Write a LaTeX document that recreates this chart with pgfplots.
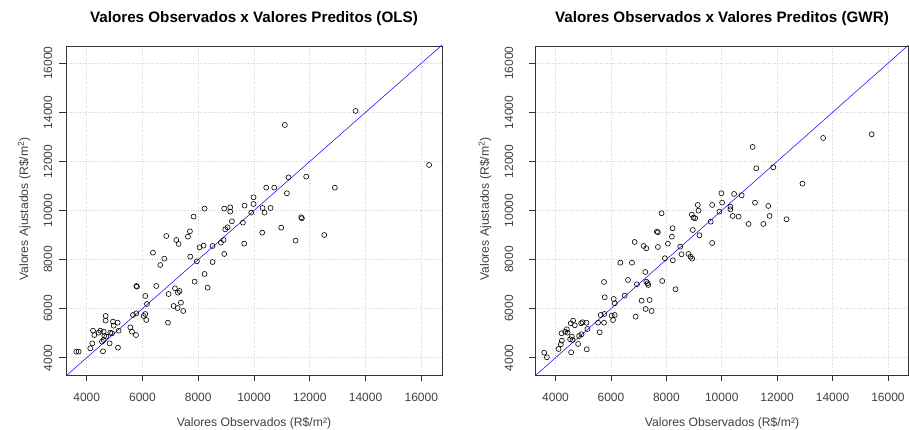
\documentclass[border=0pt]{standalone}
\usepackage{fontspec}
\setmainfont{Liberation Sans}
\usepackage{pgfplots}
\pgfplotsset{compat=1.18}
\definecolor{txtgray}{HTML}{404040}
\definecolor{framegray}{HTML}{333333}
\definecolor{gridgray}{HTML}{D3D3D3}
\pgfplotsset{
  rplot/.style={
    scale only axis, anchor=south west,
    xmin=3258, xmax=16742, ymin=3295, ymax=16705,
    xtick={4000,6000,...,16000}, ytick={4000,6000,...,16000},
    scaled ticks=false,
    tick pos=left, tick align=outside, major tick length=6.5pt,
    every tick/.style={framegray, line width=0.6pt},
    axis line style={framegray, line width=0.7pt},
    grid=major, major grid style={gridgray, dotted, line width=0.6pt},
    /pgf/number format/fixed,
    /pgf/number format/1000 sep={},
    /pgf/number format/assume math mode=true,
    xticklabel style={font=\fontsize{12}{14}\selectfont, text=txtgray, anchor=center, yshift=-16pt},
    clip=true,
  },
  pts/.style={only marks, mark=o, mark size=2.5pt, mark options={black, line width=0.6pt}},
  diag/.style={blue, line width=0.5pt, no marks},
}
\begin{document}
\begin{tikzpicture}
\useasboundingbox (0,0) rectangle (909pt,430pt);
% ---------- OLS ----------
\begin{axis}[rplot, at={(66pt,55pt)}, width=376pt, height=329pt,
  yticklabel style={font=\fontsize{12}{14}\selectfont, text=txtgray, anchor=center, xshift=-11.5pt, rotate=90}]
\addplot[diag] coordinates {(3000,3000) (17000,17000)};
\addplot[pts] table {
x y
3628 4246
3712 4246
4130 4382
4202 4585
4584 4259
5122 4409
4823 4585
4226 5102
4274 4925
4429 5020
4489 5102
4608 5061
4632 4885
4704 4857
4548 4654
4608 4722
4680 5700
4680 5510
4943 5469
5110 5428
4967 5306
4847 5020
4907 4993
5146 5102
5564 5238
5624 5061
5767 4925
5659 5741
5779 5809
6042 5700
6101 5781
6137 5537
5779 6923
5803 6896
6101 6515
6161 6189
6496 6923
6914 5428
6938 6597
7117 6108
7260 6026
7463 5904
7165 6828
7272 6651
7332 6719
7380 6244
7870 7100
8228 7412
8336 6855
6376 8282
6639 7779
6783 8037
6854 8961
7213 8798
7296 8635
7631 8934
7702 9152
7834 9750
8228 10076
7714 8119
7953 7929
8049 8499
8192 8567
8515 7901
8515 8554
8814 8690
8909 8798
8933 8228
8969 9233
9052 9315
8933 10076
9148 10130
9148 9954
9208 9559
9602 9505
9662 10198
9650 8649
9901 9913
9984 10538
9984 10266
10295 9097
10307 10103
10378 9913
10438 10932
10725 10932
10594 10103
10976 9301
11179 10701
11239 11353
11490 8771
11693 9723
11717 9682
11872 11381
13641 14058
11107 13487
16279 11856
12899 10931
12520 9000
};
\end{axis}
% ---------- GWR ----------
\begin{axis}[rplot, at={(535pt,55pt)}, width=373.5pt, height=329pt,
  yticklabel style={font=\fontsize{12}{14}\selectfont, text=txtgray, anchor=center, xshift=-19.5pt, rotate=90}]
\addplot[diag] coordinates {(3000,3000) (17000,17000)};
\addplot[pts] table {
x y
3590 4204
3687 4016
4108 4355
4191 4546
4227 4693
4216 4995
4346 5060
4407 5158
4432 5019
4562 4220
4587 4856
4612 4722
4526 4750
4551 5402
4634 5509
4695 5321
4814 4559
4850 4885
4936 4954
4922 5402
4972 5443
5116 5427
5127 4342
5152 5170
5534 5427
5595 5035
5750 5427
5631 5741
5764 5782
6027 5712
6135 5741
6074 5537
6135 6218
6891 5672
7107 6324
7251 5986
7395 6352
7467 5904
5775 6462
6099 6393
5750 7086
6340 7873
6758 7873
6495 6528
6614 7168
6938 6992
7240 7494
7276 7099
7323 7033
7348 6964
7852 7127
8331 6789
6855 8717
7179 8554
7276 8460
7658 9137
7694 9112
7694 8513
7827 9887
8054 8648
7946 8053
8223 9276
8198 8933
8234 7971
8500 8525
8547 8216
8799 8228
8871 8118
8932 8036
8954 9206
9195 8990
9652 8676
8918 9830
8979 9708
9040 9683
9134 10226
9159 9993
9602 9545
9652 10226
10012 10319
9915 9952
10311 10156
10311 10050
10394 9777
10610 9749
10970 9451
11499 9451
11200 10319
11679 10185
15412 13108
13659 12957
11114 12590
12914 11094
11859 11762
11247 11722
9987 10703
10444 10674
10718 10621
11726 9777
12338 9643
};
\end{axis}
% ---------- titles and labels ----------
\node[font=\bfseries\fontsize{15.2}{18}\selectfont] at (254pt,411pt) {Valores Observados x Valores Preditos (OLS)};
\node[font=\bfseries\fontsize{15.2}{18}\selectfont] at (722pt,411pt) {Valores Observados x Valores Preditos (GWR)};
\node[font=\fontsize{12.2}{14}\selectfont, text=txtgray] at (254pt,6.7pt) {Valores Observados (R\$/m²)};
\node[font=\fontsize{12.2}{14}\selectfont, text=txtgray] at (722pt,6.7pt) {Valores Observados (R\$/m²)};
\node[font=\fontsize{12.2}{14}\selectfont, text=txtgray, rotate=90] at (24.3pt,221pt) {Valores Ajustados (R\$/m\textsuperscript{2})};
\node[font=\fontsize{12.2}{14}\selectfont, text=txtgray, rotate=90] at (485pt,221pt) {Valores Ajustados (R\$/m\textsuperscript{2})};
\end{tikzpicture}
\end{document}
